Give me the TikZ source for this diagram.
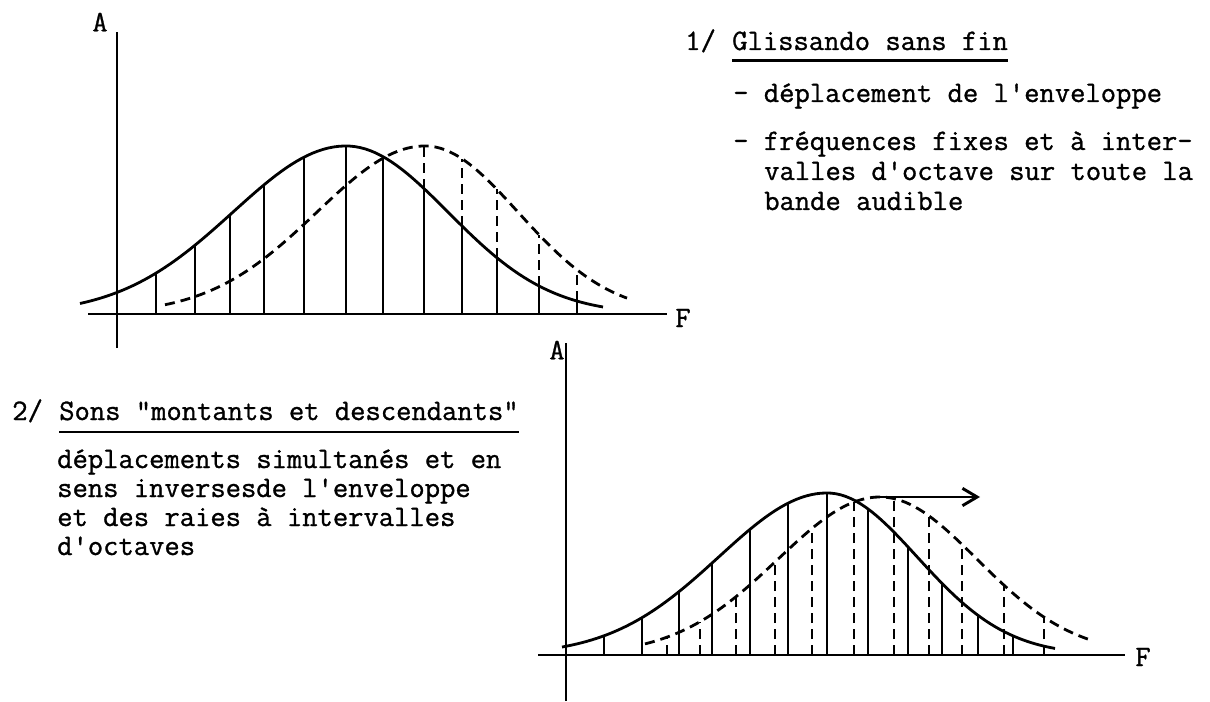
\documentclass[tikz,border=0pt]{standalone}
\usepackage{fontspec}
\setmonofont{Latin Modern Mono}[FakeBold=1]
\usetikzlibrary{arrows.meta, positioning}

\begin{document}
\begin{tikzpicture}[x=0.75pt,y=0.75pt,
  txt/.style={font=\fontsize{22.3}{26}\selectfont\ttfamily, inner sep=0pt, anchor=base west},
  lettre/.style={txt, anchor=center},
  axe/.style={line width=1.7pt},
  courbe/.style={line width=2.1pt},
  raie/.style={line width=1.6pt},
  pointille/.style={dash pattern=on 7.5pt off 4.5pt},
  souligne/.style={line width=2.2pt},
  fleche/.style={line width=2.2pt, -{Straight Barb[length=11pt,width=13pt]}},
  declare function={bell(\t,\c,\a,\l,\r)=\a*exp(-0.5*((\t-\c)/((\t<\c)*\l+(\t>=\c)*\r))^2);}]
\useasboundingbox (0,0) rectangle (1210,701);

% 1/ glissando sans fin
\node[txt] (un) at (685,651) {1/};
\node[txt] (glis) at (732,651) {Glissando sans fin};
\draw[souligne] ([yshift=-8pt]glis.base west) -- ([yshift=-8pt]glis.base east);
\node[txt] (depl) at (733,599) {- déplacement de l'enveloppe};
\node[txt] (freq) at (733,551) {- fréquences fixes et à inter-};
\foreach \ligne [count=\i] in {valles d'octave sur toute la, bande audible}
  \node[txt] (freq\i) at (764,{551-30*\i}) {\ligne};

% 2/ sons montants et descendants
\node[txt] (deux) at (12,281) {2/};
\node[txt] (sons) at (59,281) {Sons "montants et descendants"};
\draw[souligne] ([yshift=-9pt]sons.base west) -- ([yshift=-9pt]sons.base east);
\foreach \ligne [count=\i] in {déplacements simultanés et en, sens inversesde l'enveloppe,
    et des raies à intervalles, d'octaves}
  \node[txt] (depl\i) at (57,{233-29*(\i-1)}) {\ligne};

% premier graphe
\begin{scope}[shift={(0,387)}]
  \draw[axe] (117,-34) -- (117,282);
  \draw[axe] (88,0) -- (667,0);
  \node[lettre] (a1) at (100,292) {A};
  \node[lettre] (f1) at (683,-4) {F};
  \draw[courbe] plot[domain=80:603,samples=100] (\x,{bell(\x,346,168,113,102)});
  \draw[courbe,pointille] plot[domain=165:627,samples=100] (\x,{bell(\x,425,168,108,93)});
  \foreach \p in {156,195,230,264,304,346,383,424,462,497,539,577}
    \draw[raie] (\p,0) -- (\p,{bell(\p,346,168,113,102)});
  \foreach \p in {424,462,497,539,577}
    \draw[raie,pointille] (\p,{bell(\p,346,168,113,102)}) -- (\p,{bell(\p,425,168,108,93)});
\end{scope}

% second graphe
\begin{scope}[shift={(0,46)}]
  \draw[axe] (566,-46) -- (566,312);
  \draw[axe] (538,0) -- (1125,0);
  \node[lettre] (a2) at (557,305) {A};
  \node[lettre] (f2) at (1143,-2) {F};
  \draw[courbe] plot[domain=562:1055,samples=100] (\x,{bell(\x,827,162,108,90)});
  \draw[courbe,pointille] plot[domain=645:1090,samples=100] (\x,{bell(\x,880,158,102,97)});
  \foreach \p in {604,642,679,712,750,788,827,868,908,942,978,1013}
    \draw[raie] (\p,0) -- (\p,{bell(\p,827,162,108,90)});
  \foreach \p in {667,700,736,775,812,854,894,929,962,1004,1044}
    \draw[raie,pointille] (\p,0) -- (\p,{bell(\p,880,158,102,97)});
  \coordinate (debut) at (880,158);
  \coordinate (fin) at (980,158);
  \draw[fleche] (debut) -- (fin);
\end{scope}
\end{tikzpicture}
\end{document}
